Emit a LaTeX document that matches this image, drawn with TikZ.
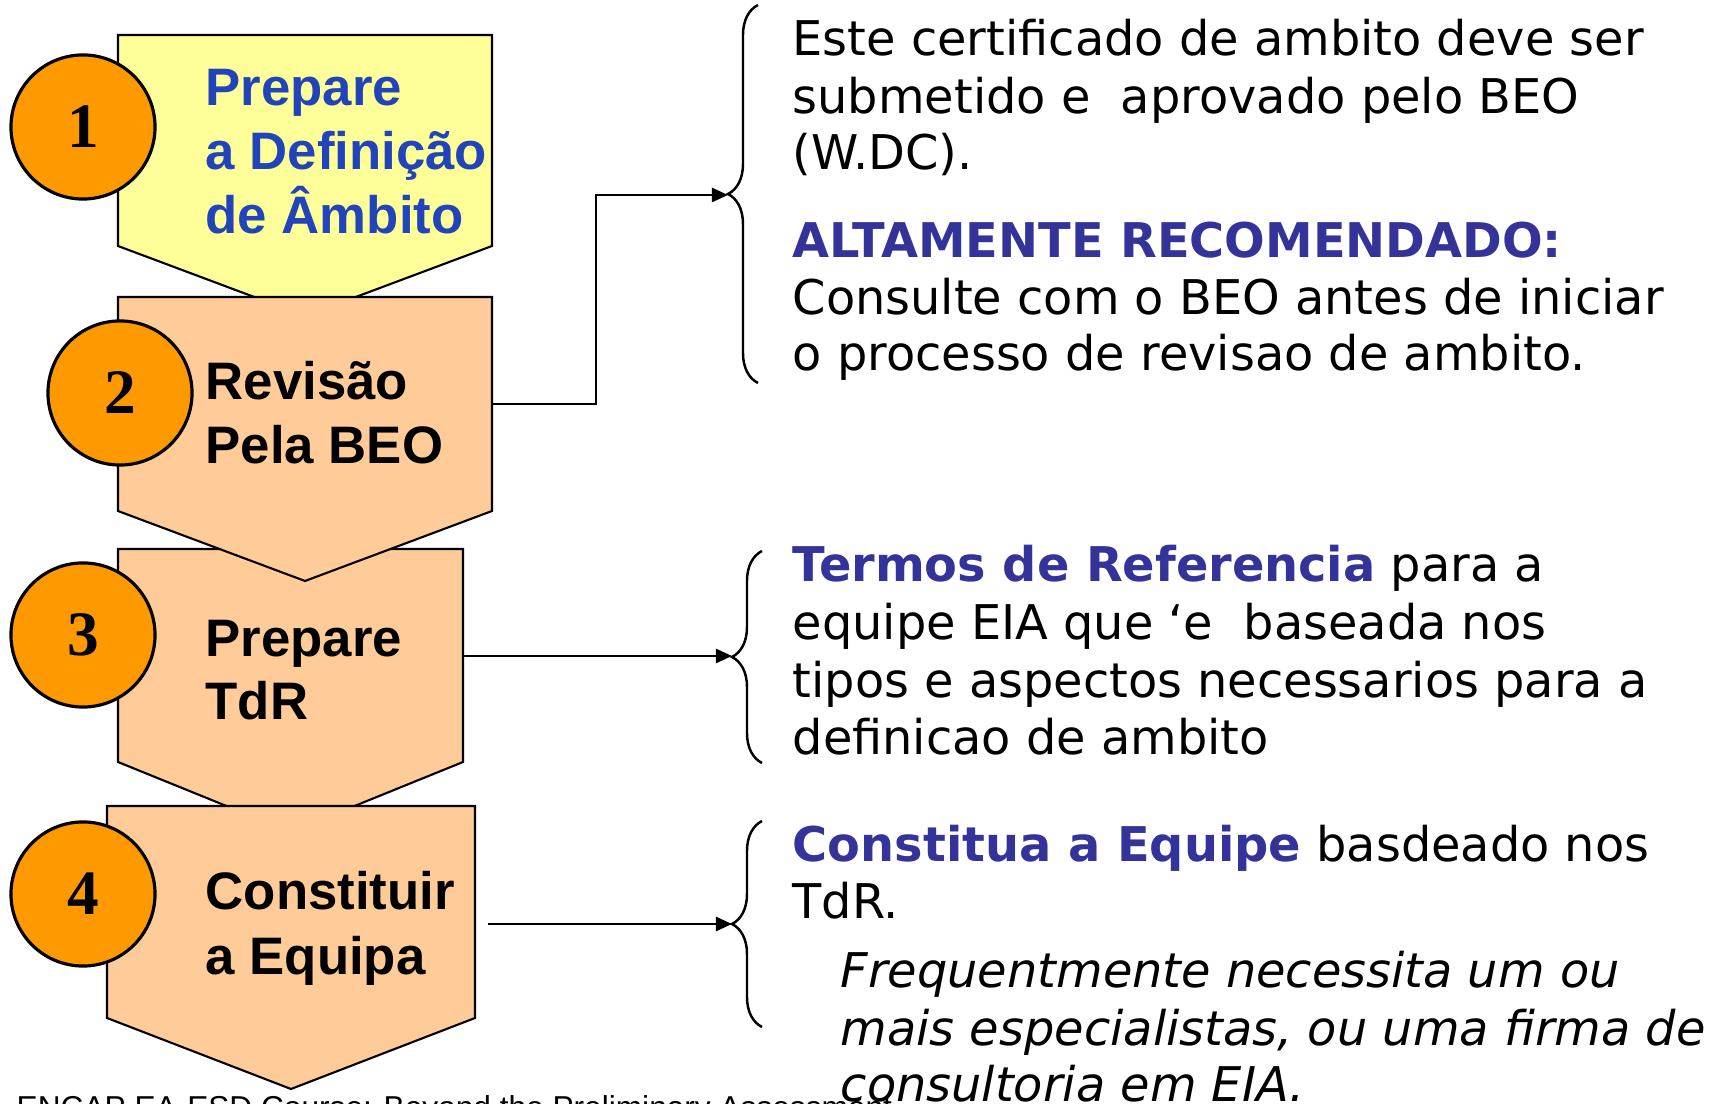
\documentclass[tikz,border=0pt]{standalone}
\usepackage{fontspec}
\setmainfont{DejaVu Sans}
\newfontfamily\boxfont{Liberation Sans}
\newfontfamily\numfont{Liberation Serif}
\usetikzlibrary{arrows.meta,decorations.pathreplacing}

\definecolor{boxyellow}{HTML}{FFFF99}
\definecolor{boxpeach}{HTML}{FFCC99}
\definecolor{discorange}{HTML}{FF9900}
\definecolor{stepblue}{HTML}{2244BB}
\definecolor{headblue}{HTML}{333399}

\def\notesize{\fontsize{13.6}{16}\selectfont}

\tikzset{
  boxline/.style={draw=black, line width=0.6pt},
  disc/.style={circle, draw=black, line width=0.9pt, fill=discorange,
    minimum size=1.44cm, inner sep=0pt,
    font=\numfont\bfseries\fontsize{18}{18}\selectfont},
  steptext/.style={anchor=base west, inner sep=0pt,
    font=\boxfont\bfseries\fontsize{15}{18}\selectfont},
  bodytext/.style={anchor=base west, inner sep=0pt, font=\notesize},
  headtext/.style={bodytext, text=headblue, font=\notesize\bfseries},
  slanttext/.style={bodytext, font=\notesize\itshape},
  link/.style={line width=0.7pt, -{Triangle[length=0.16cm,width=0.14cm]}},
  curly/.style={decorate, decoration={brace, amplitude=0.3cm}, line width=0.7pt},
}

\begin{document}
\begin{tikzpicture}[x=0.01cm, y=-0.01cm]
\useasboundingbox (0,0) rectangle (1727,1104);

\def\stepbox#1#2#3#4#5#6{
  \draw[boxline, fill=#6] (#1,#3) -- (#2,#3) -- (#2,#4) -- ({(#1+#2)/2},#5) -- (#1,#4) -- cycle;
}

% Draw the four steps (3 before 2, so that the tip of 2 lies over 3)
\stepbox{118}{492}{35}{246}{316}{boxyellow}
\stepbox{118}{463}{549}{762}{832}{boxpeach}
\stepbox{118}{492}{297}{511}{581}{boxpeach}
\stepbox{107}{475}{806}{1018}{1089}{boxpeach}

\foreach \n/\cx/\cy in {1/83/127, 2/120/393, 3/83/635, 4/83/894}
  {\node[disc] (disc\n) at (\cx,\cy) {\n};}

\node[steptext, text=stepblue] (step1a) at (205,106) {Prepare};
\node[steptext, text=stepblue] (step1b) at (205,170) {a Definição};
\node[steptext, text=stepblue] (step1c) at (205,234) {de Âmbito};
\node[steptext] (step2a) at (205,400) {Revisão};
\node[steptext] (step2b) at (205,464) {Pela BEO};
\node[steptext] (step3a) at (205,657) {Prepare};
\node[steptext] (step3b) at (205,720) {TdR};
\node[steptext] (step4a) at (205,910) {Constituir};
\node[steptext] (step4b) at (205,975) {a Equipa};

% Connectors and braces
\coordinate (out2) at (492,404);
\coordinate (out3) at (463,656);
\coordinate (out4) at (488,924);
\coordinate (tip1) at (728,195);
\coordinate (tip2) at (732,656);
\coordinate (tip3) at (732,924);

\draw[link] (out2) -- ++(104,0) |- (tip1);
\draw[link] (out3) -- (tip2);
\draw[link] (out4) -- (tip3);

\draw[curly] (758,383) -- (758,5);
\draw[curly] (762,763) -- (762,551);
\draw[curly] (762,1027) -- (762,821);

% Footer
\node[anchor=base west, inner sep=0pt, font=\boxfont\fontsize{9}{9}\selectfont] (footer) at (16,1119)
  {ENCAP EA-ESD Course: Beyond the Preliminary Assessment};

% Notes
\node[bodytext] (noteA1) at (792,56) {Este certificado de ambito deve ser};
\node[bodytext] (noteA2) at (792,114) {submetido e~ aprovado pelo BEO};
\node[bodytext] (noteA3) at (792,170) {(W.DC).};
\node[headtext] (noteA4) at (792,258) {ALTAMENTE RECOMENDADO:};
\node[bodytext] (noteA5) at (792,315) {Consulte com o BEO antes de iniciar};
\node[bodytext] (noteA6) at (792,371) {o processo de revisao de ambito.};

\node[bodytext] (noteB1) at (792,582) {{\bfseries\color{headblue}Termos de Referencia} para a};
\node[bodytext] (noteB2) at (792,640) {equipe EIA que ‘e~ baseada nos};
\node[bodytext] (noteB3) at (792,698) {tipos e aspectos necessarios para a};
\node[bodytext] (noteB4) at (792,755) {definicao de ambito};

\node[bodytext] (noteC1) at (792,862) {{\bfseries\color{headblue}Constitua a Equipe} basdeado nos};
\node[bodytext] (noteC2) at (792,919) {TdR.};
\node[slanttext] (noteC3) at (840,988) {Frequentmente necessita um ou};
\node[slanttext] (noteC4) at (840,1046) {mais especialistas, ou uma firma de};
\node[slanttext] (noteC5) at (840,1101) {consultoria em EIA.};

\end{tikzpicture}
\end{document}
